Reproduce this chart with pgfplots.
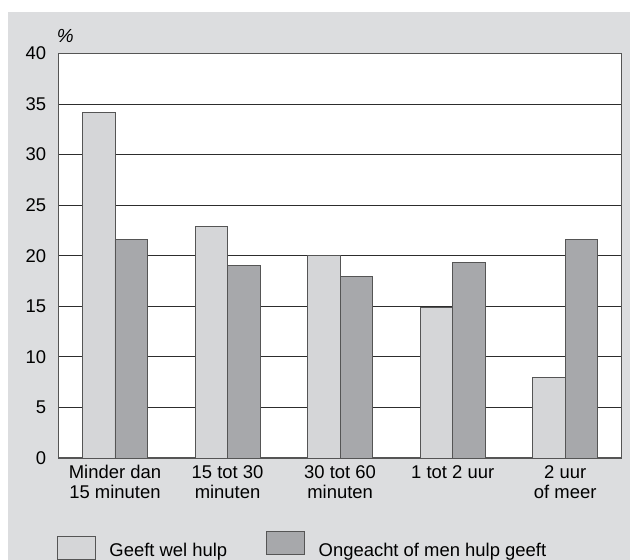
\documentclass[border=0pt]{standalone}
\usepackage{fontspec}
\setmainfont{Liberation Sans}
\usepackage{pgfplots}
\pgfplotsset{compat=1.18}
\definecolor{bg}{RGB}{220,221,223}
\definecolor{lightbar}{RGB}{213,214,216}
\definecolor{darkbar}{RGB}{167,168,171}
\definecolor{gridc}{RGB}{45,45,45}
\definecolor{edgec}{RGB}{85,85,85}
\begin{document}
\begin{tikzpicture}
\path[use as bounding box] (0bp,0bp) rectangle (630bp,560bp);
\fill[bg] (8bp,0bp) rectangle (630bp,548bp);
\begin{axis}[
  at={(58.7bp,102bp)}, anchor=south west,
  scale only axis, width=562.8bp, height=404.6bp,
  xmin=-0.5, xmax=4.5, ymin=0, ymax=40,
  clip mode=individual,
  ytick={0,5,...,40},
  xtick={0,1,2,3,4},
  xticklabels={{Minder dan\\15 minuten},{15 tot 30\\minuten},{30 tot 60\\minuten},{1 tot 2 uur},{2 uur\\of meer}},
  xticklabel style={align=center, font=\fontsize{18.5}{20}\selectfont, yshift=-4bp},
  yticklabel style={font=\fontsize{18.5}{20}\selectfont, xshift=-9bp},
  /pgf/number format/assume math mode=true,
  major tick length=0pt,
  axis background/.style={fill=white},
  ymajorgrids,
  grid style={gridc, line width=0.9bp},
  axis line style={edgec, line width=1.1bp},
  ybar=0pt, bar width=0.289,
  legend columns=2,
  legend style={at={(-0.003,-0.252)}, anchor=south west, draw=none, fill=none,
    inner sep=0pt, outer sep=0pt, font=\fontsize{18.5}{20}\selectfont,
    /tikz/every even column/.append style={column sep=37bp}},
  legend cell align=left,
]
\addplot[fill=lightbar, draw=edgec, line width=0.9bp,
  legend image code/.code={\draw[fill=lightbar, draw=edgec, line width=0.9bp] (0bp,-9bp) rectangle (38bp,14bp); \path[draw=none,fill=none] (0bp,0bp) -- (50bp,0bp);}]
  coordinates {(0,34.2) (1,22.9) (2,20.0) (3,14.9) (4,8.0)};
\addlegendentry{Geeft wel hulp}
\addplot[fill=darkbar, draw=edgec, line width=0.9bp,
  legend image code/.code={\draw[fill=darkbar, draw=edgec, line width=0.9bp] (0bp,-4bp) rectangle (38bp,19bp); \path[draw=none,fill=none] (0bp,0bp) -- (50bp,0bp);}]
  coordinates {(0,21.6) (1,19.0) (2,17.9) (3,19.35) (4,21.6)};
\addlegendentry{Ongeacht of men hulp geeft}
\node[anchor=base west, font=\fontsize{19}{20}\selectfont\itshape, inner sep=0pt] at ([xshift=-2bp,yshift=10.7bp]rel axis cs:0,1) {\%};
\end{axis}
\end{tikzpicture}
\end{document}
